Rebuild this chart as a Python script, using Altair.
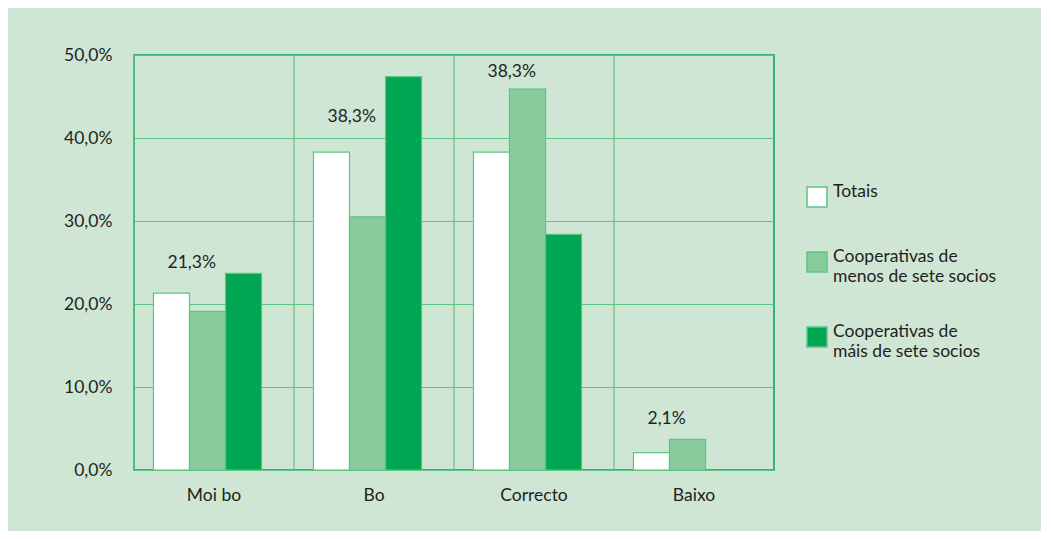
import altair as alt
import pandas as pd

categories = ["Moi bo", "Bo", "Correcto", "Baixo"]
series = ["Totais", "Cooperativas de\nmenos de sete socios", "Cooperativas de\nmáis de sete socios"]
totais = [21.3, 38.3, 38.3, 2.1]
menos = [19.1, 30.5, 45.9, 3.7]
mais = [23.7, 47.4, 28.4, 0.0]
label_text = ["21,3%", "38,3%", "38,3%", "2,1%"]
label_y = [24.9, 42.5, 47.9, 6.2]
colors = ["#ffffff", "#88cc9e", "#00a651"]
y_ticks = [0, 10, 20, 30, 40, 50]

FONT = "Lato"
TXT = "#231f20"
GRID = "#5ec483"

rows = []
for s, vals in zip(series, [totais, menos, mais]):
    for c, v in zip(categories, vals):
        rows.append({"cat": c, "series": s, "value": v})
df = pd.DataFrame(rows)
lab = pd.DataFrame({"cat": categories, "series": series[0], "text": label_text, "ly": label_y})
cats = pd.DataFrame({"cat": categories})

xscale = alt.Scale(domain=categories, paddingInner=0, paddingOuter=0)
xaxis = alt.Axis(title=None, labelAngle=0, ticks=False, domain=False, grid=False,
                 labelPadding=16, labelFontSize=17.5, labelFont=FONT, labelColor=TXT)
yscale = alt.Scale(domain=[0, 50], nice=False)
yaxis = alt.Axis(title=None, values=y_ticks, ticks=False, domain=False, grid=True,
                 gridColor=GRID, gridWidth=1.2, labelPadding=22, labelFontSize=17.5,
                 labelFont=FONT, labelColor=TXT,
                 labelExpr="replace(format(datum.value, '.1f'), '.', ',') + '%'")
offscale = alt.Scale(domain=series, paddingInner=0, paddingOuter=0.72, align=0.375)

rules = alt.Chart(cats).mark_rule(color=GRID, strokeWidth=1.2).encode(
    x=alt.X("cat:N", scale=xscale, axis=xaxis, bandPosition=0)
)

bars = alt.Chart(df).transform_filter("datum.value > 0").mark_bar(
    stroke=GRID, strokeWidth=1.2, opacity=1
).encode(
    x=alt.X("cat:N", scale=xscale, axis=xaxis),
    xOffset=alt.XOffset("series:N", scale=offscale),
    y=alt.Y("value:Q", scale=yscale, axis=yaxis),
    color=alt.Color("series:N", scale=alt.Scale(domain=series, range=colors),
                    legend=alt.Legend(title=None, orient="none", legendX=672, legendY=131,
                                      symbolType="square", symbolSize=400,
                                      symbolStrokeColor=GRID, symbolStrokeWidth=1.5,
                                      symbolOpacity=1,
                                      labelFontSize=17.5, labelFont=FONT, labelColor=TXT,
                                      labelExpr="split(datum.label, '\\n')",
                                      labelBaseline="alphabetic", rowPadding=38,
                                      labelOffset=5, labelLimit=400)),
)

labels = alt.Chart(lab).mark_text(
    align="left", baseline="middle", dx=-4, fontSize=17.5, font=FONT, color=TXT
).encode(
    x=alt.X("cat:N", scale=xscale, axis=xaxis),
    xOffset=alt.XOffset("series:N", scale=offscale, bandPosition=0),
    y=alt.Y("ly:Q", scale=yscale, axis=yaxis),
    text="text:N",
)

chart = alt.layer(rules, bars, labels).properties(
    width=640, height=415,
    background="#cfe6d5",
    padding={"left": 126, "top": 47, "right": 267, "bottom": 61},
    autosize=alt.AutoSizeParams(type="none"),
).configure_view(stroke="#00a651", strokeWidth=1.5)

chart.save("out.html", embed_options={"renderer": "svg", "actions": False})
